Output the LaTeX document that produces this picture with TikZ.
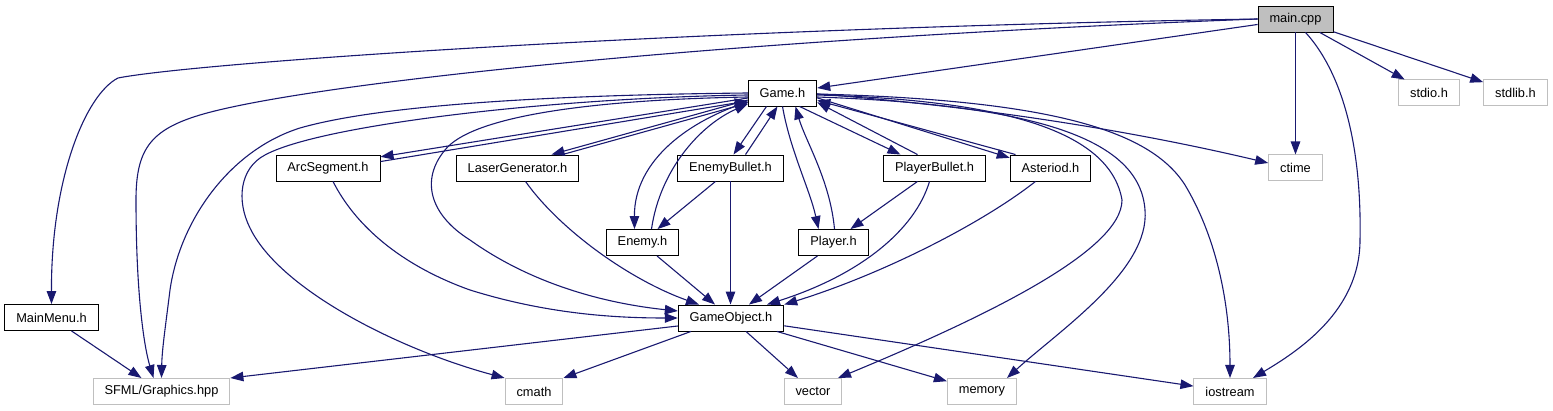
\documentclass[tikz,border=0pt]{standalone}
\usepackage{fontspec}
\setmainfont{Liberation Sans}
\usetikzlibrary{arrows.meta}
\definecolor{kante}{HTML}{191970}
\definecolor{sysrand}{HTML}{BFBFBF}
\definecolor{hauptf}{HTML}{BFBFBF}
\tikzset{
  datei/.style={draw=black,line width=0.9pt,rectangle,inner xsep=11.5pt,inner ysep=0pt,
    minimum height=26pt,font=\fontsize{12.8}{15}\selectfont},
  sysdatei/.style={datei,draw=sysrand,line width=1pt},
  haupt/.style={datei,fill=hauptf},
  inc/.style={-{Triangle[length=13pt,width=9.5pt]},kante,line width=1.1pt},
}
\begin{document}
\begin{tikzpicture}[x=1pt,y=-1pt]
  \useasboundingbox (0,0) rectangle (1553,411);
  % --- Dateien ---
  \node[haupt] (main) at (1295.5,19) {main.cpp};
  \node[datei] (game) at (782.5,93) {Game.h};
  \node[sysdatei] (stdio) at (1429,93) {stdio.h};
  \node[sysdatei] (stdlib) at (1515.5,93) {stdlib.h};
  \node[datei] (arc) at (328,168) {ArcSegment.h};
  \node[datei] (laser) at (517.5,168) {LaserGenerator.h};
  \node[datei] (ebul) at (730.5,168) {EnemyBullet.h};
  \node[datei] (pbul) at (934.5,168) {PlayerBullet.h};
  \node[datei] (ast) at (1050.5,168) {Asteriod.h};
  \node[sysdatei] (ctime) at (1295.5,168) {ctime};
  \node[datei] (enemy) at (642.5,242.5) {Enemy.h};
  \node[datei] (player) at (833.5,242.5) {Player.h};
  \node[datei] (menu) at (51.5,317.5) {MainMenu.h};
  \node[datei] (gobj) at (731,318) {GameObject.h};
  \node[sysdatei] (sfml) at (161.5,391.5) {SFML/Graphics.hpp};
  \node[sysdatei] (cmath) at (534,391.5) {cmath};
  \node[sysdatei] (vector) at (813,391.5) {vector};
  \node[sysdatei] (memory) at (982,391.5) {memory};
  \node[sysdatei] (ios) at (1230,391.5) {iostream};
  % --- main.cpp ---
  \draw[inc] (main.west) .. controls (700,28) and (200,62) .. (118,78)
    .. controls (85,95) and (51,180) .. (menu.north);
  \draw[inc] (main.west) .. controls (700,40) and (300,85) .. (200,115)
    .. controls (150,130) and (136,150) .. (136,200)
    .. controls (136,300) and (145,350) .. ([xshift=-8pt]sfml.north);
  \draw[inc] (main) -- (game);
  \draw[inc] (main) -- (stdio);
  \draw[inc] (main) -- (stdlib);
  \draw[inc] (main) -- (ctime);
  \draw[inc] ([xshift=10pt]main.south) .. controls (1340,70) and (1362,140) .. (1360,240)
    .. controls (1360,310) and (1300,350) .. ([xshift=23pt]ios.north);
  % --- Game.h nach links ---
  \draw[inc] (game.west) .. controls (550,95) and (380,105) .. (300,128)
    .. controls (230,150) and (180,220) .. (170,290)
    .. controls (165,330) and (162,350) .. (sfml.north);
  \draw[inc] ([yshift=-2pt]game.west) .. controls (550,98) and (320,125) .. (265,155)
    .. controls (240,168) and (236,200) .. (250,228)
    .. controls (280,290) and (400,350) .. (cmath.north west);
  \draw[inc] ([yshift=-4pt]game.west) .. controls (580,100) and (470,118) .. (445,150)
    .. controls (420,180) and (430,215) .. (470,240)
    .. controls (540,290) and (620,305) .. ([yshift=7pt]gobj.west);
  \draw[inc] ([yshift=-5pt]game.west) -- (arc.12);
  \draw[inc] (arc.7) -- ([yshift=-8pt]game.west);
  \draw[inc] ([yshift=-7pt]game.west) -- ([xshift=34pt]laser.north);
  \draw[inc] ([xshift=45pt]laser.north) -- ([yshift=-10pt]game.west);
  \draw[inc] ([yshift=-9pt]game.west) .. controls (690,120) and (634,160) .. ([xshift=-8pt]enemy.north);
  \draw[inc] ([xshift=9pt]enemy.north) .. controls (660,170) and (700,125) .. ([yshift=-11pt]game.west);
  % --- Game.h nach unten ---
  \draw[inc] ([xshift=-16pt]game.south) -- ([xshift=3pt]ebul.north);
  \draw[inc] ([xshift=15pt]ebul.north) -- ([xshift=-5pt]game.south);
  \draw[inc] (game.south) .. controls (790,150) and (810,190) .. ([xshift=-15pt]player.north);
  \draw[inc] ([xshift=1pt]player.north) .. controls (830,180) and (805,140) .. ([xshift=13pt]game.south);
  \draw[inc] ([xshift=17pt]game.south) -- ([xshift=-34pt]pbul.north);
  \draw[inc] ([xshift=-17pt]pbul.north) -- (game.-15);
  \draw[inc] (game.-8) -- (ast.166);
  \draw[inc] ([xshift=-35pt]ast.north) -- (game.-12);
  % --- Game.h nach rechts ---
  \draw[inc] ([yshift=-1pt]game.east) .. controls (1000,108) and (1150,135) .. ([yshift=5pt]ctime.west);
  \draw[inc] ([yshift=-1pt]game.east) .. controls (1050,100) and (1150,130) .. (1185,185)
    .. controls (1215,235) and (1230,300) .. (ios.north);
  \draw[inc] ([yshift=-4pt]game.east) .. controls (1040,105) and (1140,140) .. (1145,210)
    .. controls (1150,270) and (1060,330) .. ([xshift=25pt]memory.north);
  \draw[inc] ([yshift=-2pt]game.east) .. controls (1000,100) and (1110,130) .. (1122,200)
    .. controls (1122,250) and (990,315) .. ([xshift=25pt]vector.north);
  % --- zweite Ebene ---
  \draw[inc] ([xshift=-15pt]ebul.south) -- ([xshift=15pt]enemy.north);
  \draw[inc] ([xshift=-17pt]pbul.south) -- ([xshift=17pt]player.north);
  \draw[inc] ([xshift=5pt]arc.south) .. controls (355,225) and (400,265) .. (470,290)
    .. controls (550,315) and (620,318) .. (gobj.west);
  \draw[inc] ([xshift=8pt]laser.south) .. controls (560,230) and (630,280) .. ([xshift=-32pt]gobj.north);
  \draw[inc] (ebul.south) -- (ebul.south |- gobj.north);
  \draw[inc] ([xshift=14.5pt]enemy.south) -- ([xshift=-16pt]gobj.north);
  \draw[inc] ([xshift=-16pt]player.south) -- ([xshift=18pt]gobj.north);
  \draw[inc] ([xshift=-5pt]pbul.south) .. controls (915,230) and (860,275) .. ([xshift=36pt]gobj.north);
  \draw[inc] ([xshift=-15pt]ast.south) .. controls (980,225) and (880,275) .. (gobj.north east);
  % --- GameObject.h ---
  \draw[inc] ([yshift=-8pt]gobj.west) -- (sfml.north east);
  \draw[inc] ([xshift=-40pt]gobj.south) -- (cmath.north east);
  \draw[inc] (gobj) -- (vector);
  \draw[inc] (gobj) -- (memory);
  \draw[inc] (gobj) -- (ios);
  \draw[inc] (menu) -- (sfml);
\end{tikzpicture}
\end{document}
